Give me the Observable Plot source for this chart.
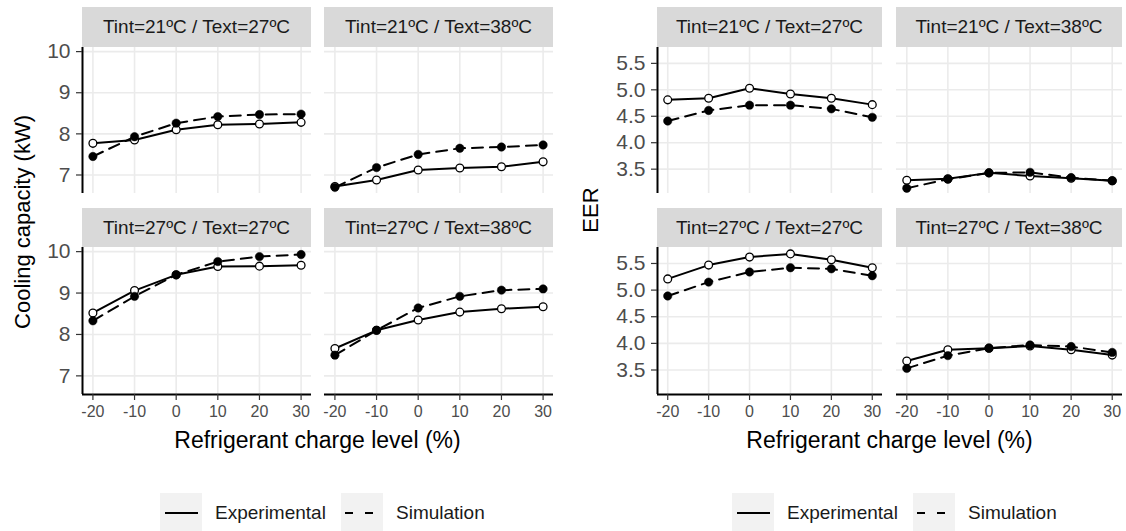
<!DOCTYPE html>
<html><head><meta charset="utf-8">
<script src="https://cdn.jsdelivr.net/npm/d3@7"></script>
<script src="https://cdn.jsdelivr.net/npm/@observablehq/plot@0.6"></script>
<style>
body{margin:0;background:#fff;font-family:"Liberation Sans",Arial,sans-serif;}
#root{position:relative;width:1126px;height:531px;overflow:hidden;background:#fff;}
.abs{position:absolute;}
.strip{position:absolute;background:#d9d9d9;color:#1a1a1a;font-size:19px;display:flex;align-items:center;justify-content:center;white-space:nowrap;}
.title{position:absolute;color:#000;white-space:nowrap;transform:translate(-50%,-50%);}
.leg{position:absolute;font-size:19px;color:#1a1a1a;white-space:nowrap;transform:translateY(-50%);}
svg{overflow:visible;}
</style></head><body><div id="root"></div>
<script>
// ---------------- data ----------------
const charge = [-20, -10, 0, 10, 20, 30];
const conditions = ["Tint=21ºC / Text=27ºC", "Tint=21ºC / Text=38ºC", "Tint=27ºC / Text=27ºC", "Tint=27ºC / Text=38ºC"];
const seriesNames = ["Experimental", "Simulation"];

const capExp = [
  [7.77, 7.85, 8.10, 8.22, 8.24, 8.28],
  [6.72, 6.88, 7.12, 7.17, 7.20, 7.32],
  [8.52, 9.06, 9.44, 9.64, 9.65, 9.67],
  [7.66, 8.10, 8.35, 8.54, 8.62, 8.67]
];
const capSim = [
  [7.45, 7.93, 8.26, 8.42, 8.47, 8.48],
  [6.70, 7.18, 7.50, 7.65, 7.68, 7.73],
  [8.33, 8.92, 9.44, 9.76, 9.88, 9.93],
  [7.50, 8.10, 8.64, 8.92, 9.07, 9.10]
];
const eerExp = [
  [4.81, 4.84, 5.03, 4.92, 4.84, 4.72],
  [3.29, 3.32, 3.43, 3.37, 3.33, 3.28],
  [5.21, 5.47, 5.62, 5.68, 5.57, 5.42],
  [3.67, 3.88, 3.91, 3.95, 3.88, 3.78]
];
const eerSim = [
  [4.41, 4.61, 4.71, 4.71, 4.64, 4.48],
  [3.14, 3.31, 3.43, 3.44, 3.34, 3.28],
  [4.89, 5.15, 5.34, 5.42, 5.40, 5.27],
  [3.53, 3.77, 3.91, 3.97, 3.94, 3.83]
];
const capTicks = [7, 8, 9, 10];
const eerTicks = [3.5, 4.0, 4.5, 5.0, 5.5];
const xTicks = [-20, -10, 0, 10, 20, 30];
const xLabel = "Refrigerant charge level (%)";
const capLabel = "Cooling capacity (kW)";
const eerLabel = "EER";

// ---------------- layout ----------------
const FONT = '"Liberation Sans", Arial, sans-serif';
const root = document.getElementById("root");
const xDomain = [-22.5, 32.5];
const rows = [[47, 193], [247, 394]];
const stripTops = [7, 208];
const charts = [
  {cols: [[82, 311], [324, 553]], exp: capExp, sim: capSim, yDomain: [6.55, 10.1], ticks: capTicks, fmt: d => String(d), ylab: capLabel, ylabPos: [23, 222], legendX: 160},
  {cols: [[657, 882], [896, 1122]], exp: eerExp, sim: eerSim, yDomain: [3.04, 5.8], ticks: eerTicks, fmt: d => d.toFixed(1), ylab: eerLabel, ylabPos: [591, 210], legendX: 732}
];

function facet(ch, i) {
  const r = Math.floor(i / 2), c = i % 2;
  const [x0, x1] = ch.cols[c], [y0, y1] = rows[r];
  const showY = c === 0, showX = r === 1;
  const ml = showY ? 70 : 0, mb = showX ? 34 : 0;
  const data = [];
  charge.forEach((x, k) => {
    data.push({x, v: ch.exp[i][k], s: seriesNames[0]});
    data.push({x, v: ch.sim[i][k], s: seriesNames[1]});
  });
  const exp = data.filter(d => d.s === seriesNames[0]);
  const sim = data.filter(d => d.s === seriesNames[1]);
  const plot = Plot.plot({
    width: (x1 - x0) + ml, height: (y1 - y0) + mb,
    marginLeft: ml, marginRight: 0, marginTop: 0, marginBottom: mb,
    x: {domain: xDomain, axis: null},
    y: {domain: ch.yDomain, axis: null},
    style: {fontFamily: FONT, background: "transparent", overflow: "visible"},
    marks: [
      Plot.gridX(xTicks, {stroke: "#ebebeb", strokeOpacity: 1, strokeWidth: 1.6}),
      Plot.gridY(ch.ticks, {stroke: "#ebebeb", strokeOpacity: 1, strokeWidth: 1.6}),
      Plot.line(exp, {x: "x", y: "v", stroke: "black", strokeWidth: 2}),
      Plot.line(sim, {x: "x", y: "v", stroke: "black", strokeWidth: 2, strokeDasharray: "11,7"}),
      Plot.dot(exp, {x: "x", y: "v", r: 3.9, fill: "white", stroke: "black", strokeWidth: 1.3}),
      Plot.dot(sim, {x: "x", y: "v", r: 4.2, fill: "black", stroke: "black", strokeWidth: 0.5}),
      showY ? Plot.ruleX([xDomain[0]], {stroke: "black", strokeWidth: 2}) : null,
      showX ? Plot.ruleY([ch.yDomain[0]], {stroke: "black", strokeWidth: 2}) : null,
      showY ? Plot.axisY(ch.ticks, {tickSize: 6, tickPadding: 6, fontSize: 21, fill: "#4d4d4d", stroke: "#333", strokeWidth: 1.2, label: null, tickFormat: ch.fmt}) : null,
      showX ? Plot.axisX(xTicks, {tickSize: 6, tickPadding: 5, fontSize: 16, fill: "#4d4d4d", stroke: "#333", strokeWidth: 1.2, label: null, tickFormat: d => String(d)}) : null
    ]
  });
  const wrap = document.createElement("div");
  wrap.className = "abs";
  wrap.style.left = (x0 - ml) + "px";
  wrap.style.top = y0 + "px";
  wrap.appendChild(plot);
  root.appendChild(wrap);
  // strip
  const s = document.createElement("div");
  s.className = "strip";
  s.style.left = x0 + "px";
  s.style.top = stripTops[r] + "px";
  s.style.width = (x1 - x0) + "px";
  s.style.height = (y0 - stripTops[r]) + "px";
  s.textContent = conditions[i];
  root.appendChild(s);
}

function addText(txt, cx, cy, size, rotate) {
  const d = document.createElement("div");
  d.className = "title";
  d.style.left = cx + "px";
  d.style.top = cy + "px";
  d.style.fontSize = size + "px";
  if (rotate) d.style.transform = "translate(-50%,-50%) rotate(-90deg)";
  d.textContent = txt;
  root.appendChild(d);
}

function legend(x) {
  const cy = 513;
  const items = [{dash: null, label: seriesNames[0]}, {dash: "8,12", label: seriesNames[1]}];
  const offsets = [0, 181];
  items.forEach((it, k) => {
    const bx = x + offsets[k];
    const box = document.createElement("div");
    box.className = "abs";
    box.style.left = bx + "px"; box.style.top = "493px";
    box.innerHTML = `<svg width="42" height="40"><rect width="42" height="40" fill="#f2f2f2"></rect><line x1="${it.dash ? 4 : 5}" x2="${it.dash ? 33 : 38}" y1="20" y2="20" stroke="black" stroke-width="2.2" ${it.dash ? `stroke-dasharray="${it.dash}"` : ""}></line></svg>`;
    root.appendChild(box);
    const t = document.createElement("div");
    t.className = "leg";
    t.style.left = (bx + 55) + "px";
    t.style.top = cy + "px";
    t.textContent = it.label;
    root.appendChild(t);
  });
}

charts.forEach(ch => {
  for (let i = 0; i < 4; i++) facet(ch, i);
  const cx = (ch.cols[0][0] + ch.cols[1][1]) / 2;
  addText(xLabel, cx, 440, 23, false);
  addText(ch.ylab, ch.ylabPos[0], ch.ylabPos[1], 22, true);
  legend(ch.legendX);
});
</script>
</body></html>
